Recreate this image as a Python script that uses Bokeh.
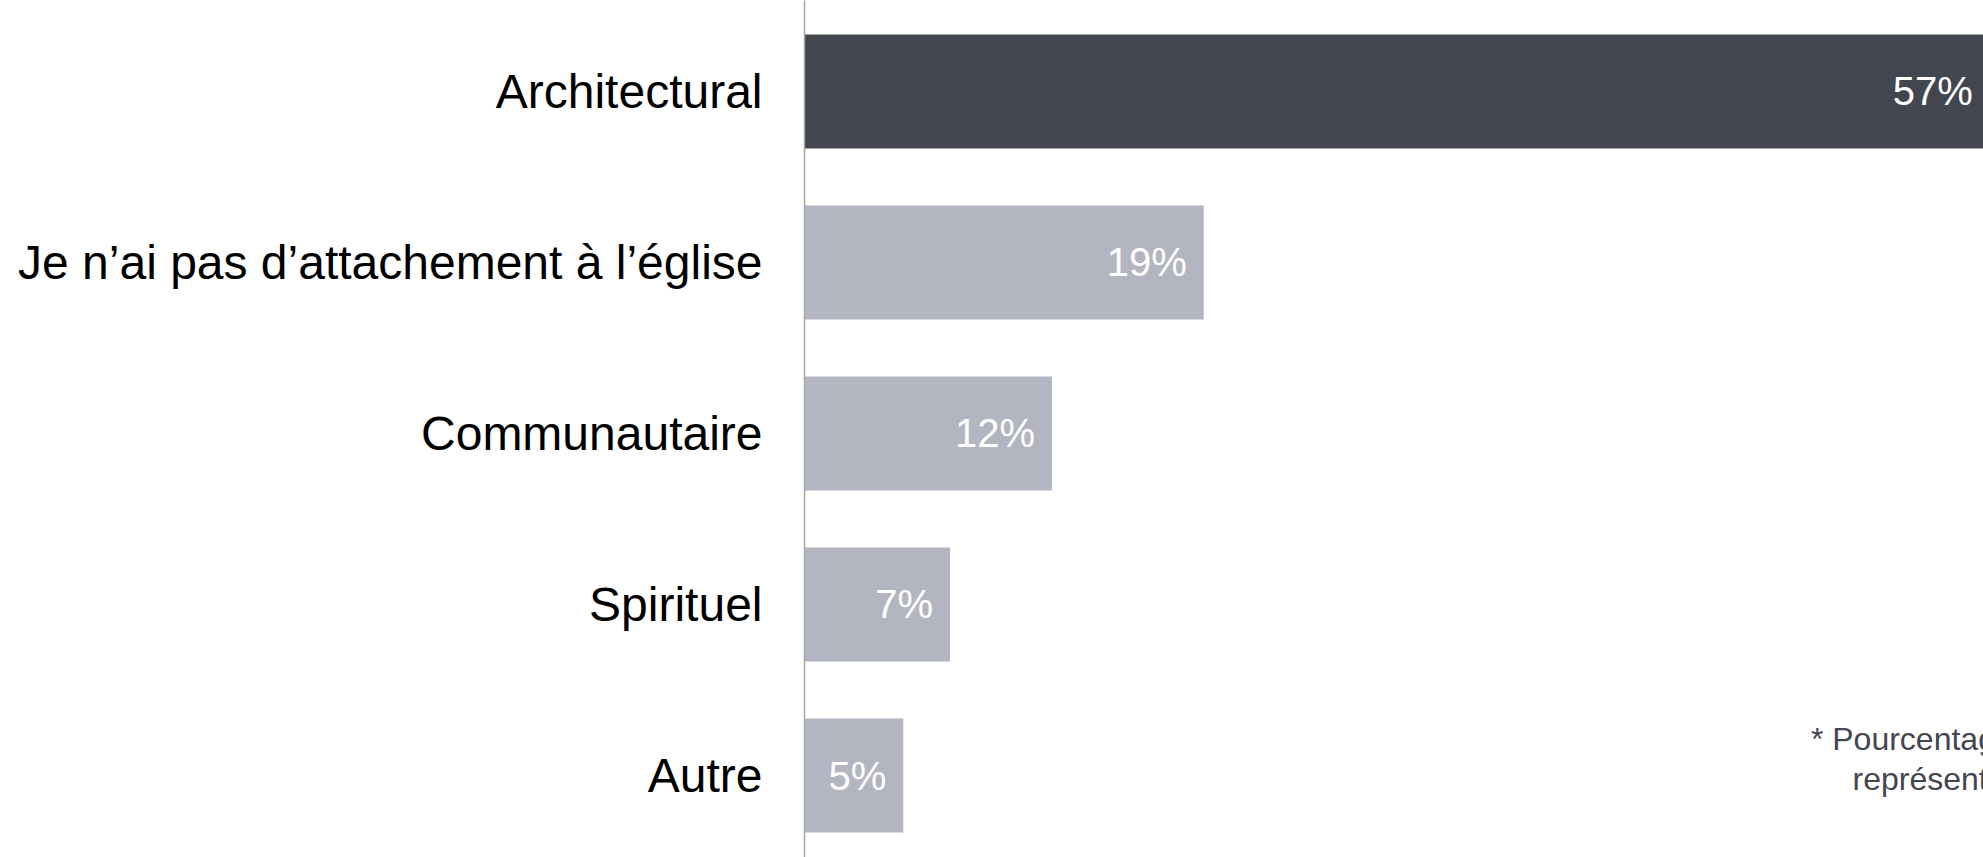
from bokeh.plotting import figure
from bokeh.models import ColumnDataSource, Range1d, FixedTicker, Label
from bokeh.core.properties import value
from bokeh.embed import file_html
from bokeh.resources import INLINE

# Data
categories = ["Architectural", "Je n’ai pas d’attachement à l’église", "Communautaire", "Spirituel", "Autre"]
percent = [57.0, 19.2, 11.9, 7.0, 4.75]          # bar lengths
value_labels = ["57%", "19%", "12%", "7%", "5%"]   # labels as printed
bar_colors = ["#44464F", "#B3B5C1", "#B3B5C1", "#B3B5C1", "#B3B5C1"]
footnote_lines = ["* Pourcentage des répondants", "représentant chaque réponse"]

n = len(categories)
ypos = [n - 1 - i for i in range(n)]

src = ColumnDataSource(dict(y=ypos, v=percent, c=bar_colors, lab=value_labels))

FONT = "Liberation Sans"

p = figure(width=1983, height=857,
           x_range=Range1d(0, 56.7), y_range=Range1d(-0.4795, 4.532),
           output_backend="svg", toolbar_location=None,
           x_axis_location=None,
           min_border_left=804, min_border_right=0,
           min_border_top=0, min_border_bottom=0)

p.hbar(y="y", left=0, right="v", height=0.667, fill_color="c", line_color=None, source=src)
p.text(x="v", y="y", text="lab", source=src, text_align="right", text_baseline="middle",
       x_offset=-17, text_color="white", text_font=value(FONT), text_font_size="40px")

p.xgrid.visible = False
p.ygrid.visible = False
p.outline_line_color = None
p.background_fill_color = "white"
p.border_fill_color = "white"

ax = p.yaxis[0]
ax.ticker = FixedTicker(ticks=ypos)
ax.major_label_overrides = {y: c for y, c in zip(ypos, categories)}
ax.major_label_text_font = FONT
ax.major_label_text_font_size = "48px"
ax.major_label_text_color = "black"
ax.major_tick_line_color = None
ax.minor_tick_line_color = None
ax.major_label_standoff = 36
ax.axis_line_color = "#A6A6A6"
ax.axis_line_width = 1.5

fn1 = Label(x=48.4, y=0.216, text=footnote_lines[0], text_font=FONT, text_font_size="32px",
            text_color="#43464F", text_baseline="alphabetic", text_align="left")
fn2 = Label(x=50.4, y=-0.019, text=footnote_lines[1], text_font=FONT, text_font_size="32px",
            text_color="#43464F", text_baseline="alphabetic", text_align="left")
p.add_layout(fn1)
p.add_layout(fn2)

open("out.html", "w").write(file_html(p, INLINE))
